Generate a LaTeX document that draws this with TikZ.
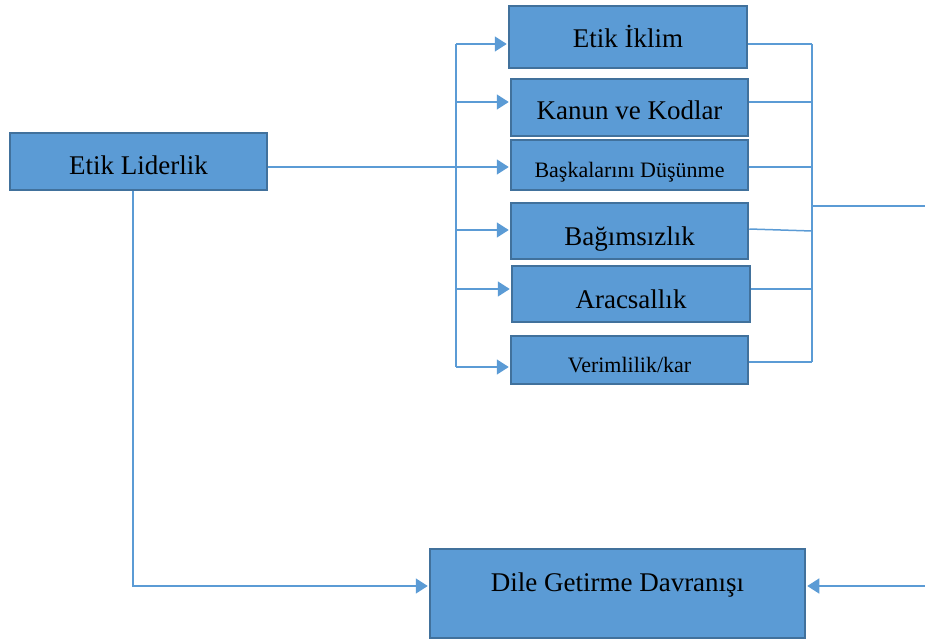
\documentclass[tikz,border=0pt]{standalone}
\usepackage{fontspec}
\setmainfont{Liberation Serif}
\usetikzlibrary{arrows.meta}
\definecolor{boxfill}{HTML}{5B9BD5}
\definecolor{boxline}{HTML}{41719C}
\definecolor{linkcol}{HTML}{5B9BD5}

\begin{document}
\begin{tikzpicture}[x=1pt, y=-1pt,
	box/.style = {draw=boxline, line width=2.5pt, fill=boxfill, inner sep=0pt, text depth=0pt, font=\fontsize{27}{32}\selectfont},
	small/.style = {font=\fontsize{22}{26}\selectfont},
	link/.style = {draw=linkcol, line width=1.5pt},
	tip/.style = {-{Triangle[length=12pt,width=15pt]}, shorten >=1pt}]
	\useasboundingbox (0,0) rectangle (925,639);
	% boxes
	\node [box, minimum width=257pt, minimum height=57pt, text height=27pt] (el) at (138.5,161.5) {Etik Liderlik};
	\node [box, minimum width=238pt, minimum height=62pt, text height=22pt] (ik) at (628,37) {Etik İklim};
	\node [box, minimum width=237pt, minimum height=57pt, text height=25pt] (kk) at (629.5,107.5) {Kanun ve Kodlar};
	\node [box, small, minimum width=237pt, minimum height=50pt, text height=24pt] (bk) at (629.5,165) {Başkalarını Düşünme};
	\node [box, minimum width=237pt, minimum height=56pt, text height=28pt] (bg) at (629.5,231) {Bağımsızlık};
	\node [box, minimum width=238pt, minimum height=56pt, text height=28pt] (ar) at (631,294) {Aracsallık};
	\node [box, small, minimum width=237pt, minimum height=48pt, text height=24pt] (vr) at (629.5,360) {Verimlilik/kar};
	\node [box, minimum width=375pt, text height=42pt, text depth=47pt] (dg) at (617.5,593.5) {Dile Getirme Davranışı};
	% left bus
	\coordinate (lt) at (456,44);
	\coordinate (lb) at (456,367);
	\draw [link] (lt) -- (lb);
	\foreach \n/\y in {ik/44, kk/102, bk/167, bg/230, ar/289, vr/367}
		\draw [link, tip] (lt |- 0,\y) -- (\n.west |- 0,\y);
	\draw [link] ([yshift=-5.5pt]el.east) -- (lt |- 0,167);
	% right bus
	\coordinate (rt) at (812,44);
	\coordinate (rb) at (812,362);
	\coordinate (rout) at (925,206);
	\draw [link] (rt) -- (rb);
	\foreach \n/\y in {ik/44, kk/102, bk/167, ar/289, vr/362}
		\draw [link] (\n.east |- 0,\y) -- (rt |- 0,\y);
	\draw [link] (bg.east |- 0,229) -- (rt |- 0,231);
	\draw [link] (rt |- rout) -- (rout);
	% to bottom box
	\draw [link, tip] ([xshift=-5.5pt]el.south) |- ([yshift=7.5pt]dg.west);
	\coordinate (rin) at (925,586);
	\draw [link, tip] (rin) -- (rin -| dg.east);
\end{tikzpicture}
\end{document}
